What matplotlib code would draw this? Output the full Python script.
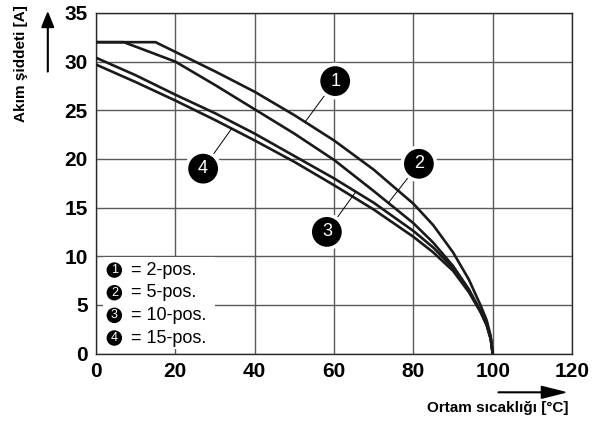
import numpy as np
import matplotlib
matplotlib.use("Agg")
import matplotlib.pyplot as plt
from matplotlib.patches import Rectangle, FancyArrow

plt.rcParams['font.family'] = ['Liberation Sans', 'DejaVu Sans']

# values
temp_1 = [0, 15, 20, 30, 40, 50, 60, 70, 80, 85, 90, 94, 97, 98.5, 99.5, 100]
amps_1 = [32, 32, 31.0, 29.0, 26.9, 24.5, 21.9, 18.9, 15.4, 13.2, 10.4, 7.6, 4.9, 3.4, 1.8, 0]

temp_2 = [0, 7, 20, 30, 40, 50, 60, 70, 80, 85, 90, 94, 97, 98.5, 99.5, 100]
amps_2 = [32, 32, 30.0, 27.6, 25.1, 22.6, 19.9, 16.7, 13.4, 11.4, 9.0, 6.6, 4.3, 3.0, 1.6, 0]

temp_3 = [0, 10, 20, 30, 40, 50, 60, 70, 80, 85, 90, 94, 97, 98.5, 99.5, 100]
amps_3 = [30.4, 28.6, 26.6, 24.7, 22.6, 20.3, 18.0, 15.5, 12.6, 10.9, 8.8, 6.5, 4.3, 2.9, 1.5, 0]

temp_4 = [0, 10, 20, 30, 40, 50, 60, 70, 80, 85, 90, 94, 97, 98.5, 99.5, 100]
amps_4 = [29.7, 27.9, 26.0, 24.0, 21.9, 19.7, 17.3, 14.8, 12.0, 10.4, 8.5, 6.3, 4.2, 2.9, 1.5, 0]

curve_names = ["1", "2", "3", "4"]
legend_labels = ["= 2-pos.", "= 5-pos.", "= 10-pos.", "= 15-pos."]
x_ticks = [0, 20, 40, 60, 80, 100, 120]
y_ticks = [0, 5, 10, 15, 20, 25, 30, 35]


def main():
    curves = [(temp_1, amps_1), (temp_2, amps_2), (temp_3, amps_3), (temp_4, amps_4)]

    fig = plt.figure(figsize=(5.93, 4.23), dpi=100)
    ax = fig.add_axes([0.1619, 0.1643, 0.8027, 0.805])

    ax.set_xlim(0, 120)
    ax.set_ylim(0, 35)
    ax.set_xticks(x_ticks)
    ax.set_yticks(y_ticks)
    ax.tick_params(length=0, labelsize=15, pad=6)
    for lab in ax.get_xticklabels() + ax.get_yticklabels():
        lab.set_fontweight("bold")
    ax.grid(True, color="#5a5a5a", lw=1.0)
    ax.set_axisbelow(True)
    for sp in ax.spines.values():
        sp.set_color("#2a2a2a")
        sp.set_linewidth(1.0)

    for t, a in curves:
        ax.plot(t, a, color="#1a1a1a", lw=1.9, zorder=3)

    # numbered markers with leader lines: (circle centre, x where leader meets curve)
    marks = [((60.3, 28.0), 52.7), ((81.4, 19.5), 73.7), ((58.2, 12.5), 65.5), ((27.0, 19.0), 34.2)]
    for name, (t, a), (centre, xa) in zip(curve_names, curves, marks):
        ya = np.interp(xa, t, a)
        ax.annotate(name, xy=(xa, ya), xytext=centre, ha="center", va="center",
                    fontsize=13, color="white", zorder=5,
                    bbox=dict(boxstyle="circle,pad=0.45", fc="black", ec="white", lw=2.5),
                    arrowprops=dict(arrowstyle="-", color="black", lw=0.7, shrinkA=0, shrinkB=0))

    # legend box
    ax.add_patch(Rectangle((0.015, 0.013), 0.235, 0.27, transform=ax.transAxes,
                           fc="white", ec="none", zorder=2))
    for i, (name, lab) in enumerate(zip(curve_names, legend_labels)):
        yy = 0.245 - i * 0.0665
        ax.text(0.0385, yy, name, transform=ax.transAxes, ha="center", va="center",
                fontsize=9, color="white", zorder=4,
                bbox=dict(boxstyle="circle,pad=0.14", fc="black", ec="none"))
        ax.text(0.073, yy, lab, transform=ax.transAxes, ha="left", va="center",
                fontsize=13, zorder=4)

    # axis titles with arrows
    fig.text(0.036, 0.85, "Akım şiddeti [A]", rotation=90, ha="center", va="center",
             fontsize=11, fontweight="bold")
    fig.text(0.958, 0.036, "Ortam sıcaklığı [°C]", ha="right", va="center",
             fontsize=11, fontweight="bold")
    fig.patches.append(FancyArrow(
        0.0805, 0.83, 0, 0.14, width=0.001, head_width=0.02, head_length=0.035,
        length_includes_head=True, color="black", transform=fig.transFigure, figure=fig))
    fig.patches.append(FancyArrow(
        0.84, 0.0725, 0.113, 0, width=0.0015, head_width=0.028, head_length=0.04,
        length_includes_head=True, color="black", transform=fig.transFigure, figure=fig))

    fig.savefig("out.png", dpi=100)


if __name__ == '__main__':
    main()
